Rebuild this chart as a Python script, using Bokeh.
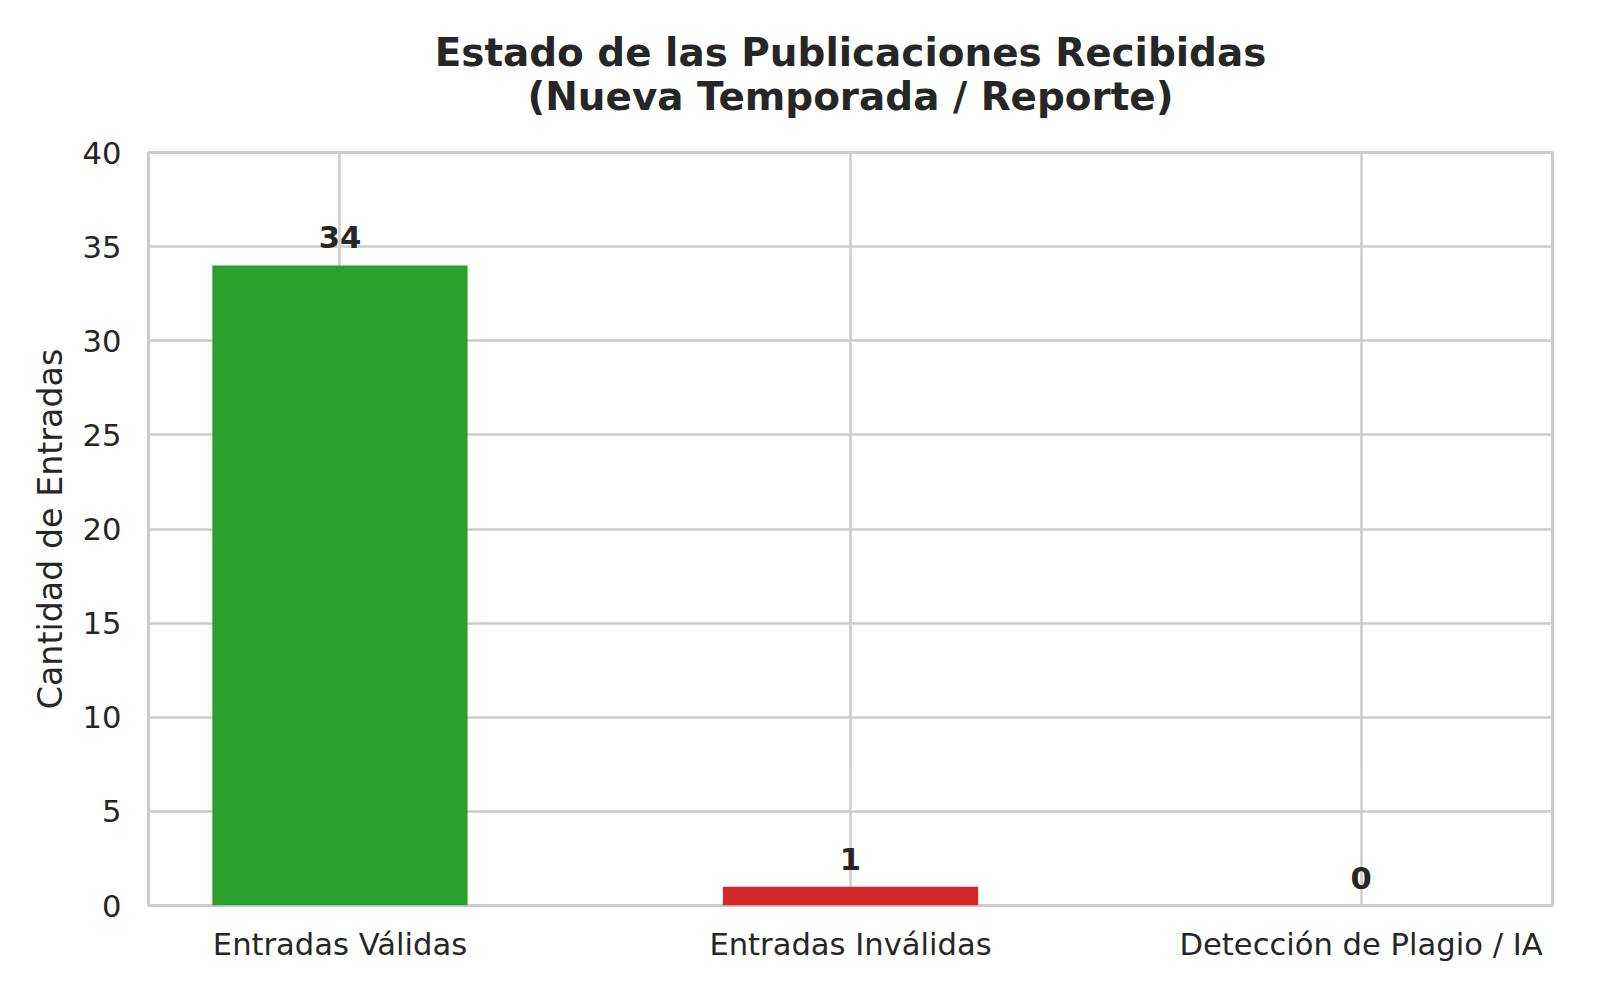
from bokeh.plotting import figure
from bokeh.models import Range1d, FixedTicker, Title, ColumnDataSource
from bokeh.core.properties import value
from bokeh.embed import file_html
from bokeh.resources import INLINE

categories = ["Entradas Válidas", "Entradas Inválidas", "Detección de Plagio / IA"]
counts = [34, 1, 0]
bar_colors = ["#2ca02c", "#d62728", "#ff7f0e"]
y_ticks = [0, 5, 10, 15, 20, 25, 30, 35, 40]
title_lines = ["Estado de las Publicaciones Recibidas", "(Nueva Temporada / Reporte)"]

FONT = "DejaVu Sans"
TXT = "#262626"

xs = list(range(len(categories)))
src = ColumnDataSource(dict(x=xs, top=counts, color=bar_colors,
                            label=[str(c) for c in counts]))

p = figure(width=1584, height=984, output_backend="svg", toolbar_location=None,
           x_range=Range1d(-0.375, len(categories) - 1 + 0.375),
           y_range=Range1d(0, 40),
           min_border_left=148, min_border_right=32,
           min_border_top=152, min_border_bottom=79)

p.vbar(x="x", top="top", bottom=0, width=0.5, source=src,
       fill_color="color", line_color=None)

p.text(x="x", y="top", text="label", source=src,
       text_font=value(FONT), text_font_size="30.6px", text_font_style="bold",
       text_color=TXT, text_align="center", text_baseline="alphabetic",
       y_offset=-28)

# titles: second line added first (closest to the frame)
t2 = Title(text=title_lines[1], align="center",
           text_font=FONT, text_font_size="38.9px", text_font_style="bold",
           text_color=TXT, standoff=67)
t1 = Title(text=title_lines[0], align="center",
           text_font=FONT, text_font_size="38.9px", text_font_style="bold",
           text_color=TXT, standoff=-72)
p.add_layout(t2, "above")
p.add_layout(t1, "above")

p.xaxis.ticker = FixedTicker(ticks=xs)
p.xaxis.major_label_overrides = {i: c for i, c in zip(xs, categories)}
p.yaxis.ticker = FixedTicker(ticks=y_ticks)
p.yaxis.axis_label = "Cantidad de Entradas"

for ax in (p.xaxis, p.yaxis):
    ax.axis_line_color = None
    ax.major_tick_line_color = None
    ax.minor_tick_line_color = None
    ax.major_label_text_font = FONT
    ax.major_label_text_font_size = "30.6px"
    ax.major_label_text_color = TXT
    ax.axis_label_text_font = FONT
    ax.axis_label_text_font_size = "33.3px"
    ax.axis_label_text_font_style = "normal"
    ax.axis_label_text_color = TXT

p.xaxis.major_label_standoff = 15
p.yaxis.major_label_standoff = 21
p.yaxis.axis_label_standoff = 10

p.xgrid.grid_line_color = "#cccccc"
p.ygrid.grid_line_color = "#cccccc"
p.xgrid.grid_line_width = 2.5
p.ygrid.grid_line_width = 2.5
p.outline_line_color = "#cccccc"
p.outline_line_width = 3
p.background_fill_color = "white"
p.border_fill_color = "white"

open("out.html", "w").write(file_html(p, INLINE))
